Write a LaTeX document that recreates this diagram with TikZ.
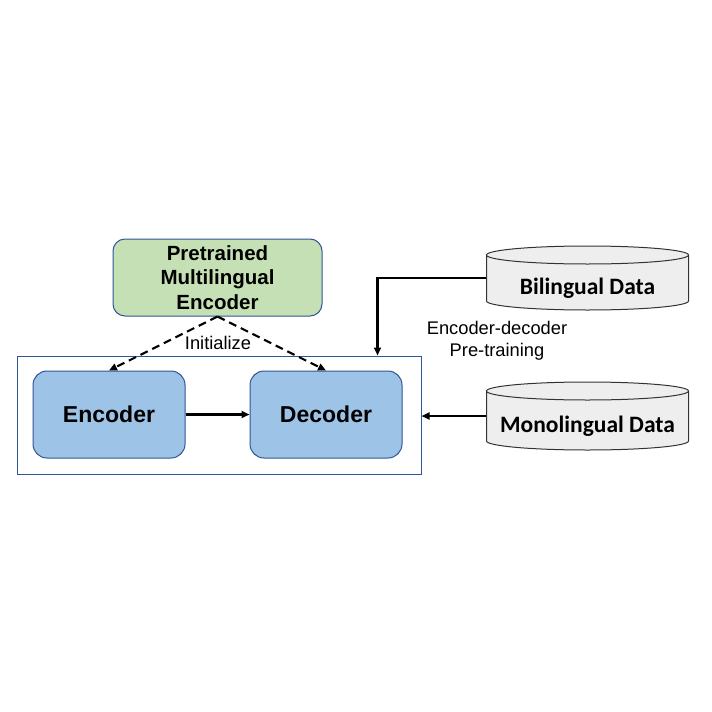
\documentclass[tikz,border=0pt]{standalone}
\usepackage{fontspec}
\setmainfont{Liberation Sans}
\newfontfamily\calibri{Carlito}
\usetikzlibrary{arrows.meta}
\definecolor{pregreen}{HTML}{C5E0B4}
\definecolor{boxblue}{HTML}{9DC3E6}
\definecolor{edgeblue}{HTML}{2F5597}
\definecolor{datagray}{HTML}{EEEEEE}
\begin{document}
\begin{tikzpicture}[x=1pt,y=-1pt,
  arr/.style = {line width=2.1pt, -{Triangle[length=8pt,width=7pt]}},
  model/.style = {draw=edgeblue, line width=1pt, fill=boxblue, rounded corners=14pt,
    minimum width=152pt, minimum height=87pt, font=\fontsize{23}{26}\selectfont\bfseries},
  data/.style = {minimum width=202pt, text height=38pt, text depth=5pt,
    font=\calibri\fontsize{23.5}{26}\selectfont\bfseries},
  can/.style = {draw=black!80, line width=1pt, fill=datagray}]
  \useasboundingbox (0,0) rectangle (712,712);
  \node[draw=edgeblue, line width=1pt, minimum width=404pt, minimum height=118pt]
    (frame) at (219,415) {};
  \node[draw=edgeblue, line width=1pt, fill=pregreen, rounded corners=12pt,
    minimum width=209pt, minimum height=77pt, align=center,
    font=\fontsize{20.5}{24.5}\selectfont\bfseries] (pre) at (217.5,277.5)
    {Pretrained\\Multilingual\\Encoder};
  \node[model] (enc) at (109,414.5) {Encoder};
  \node[model] (dec) at (326,414.5) {Decoder};
  \foreach \n/\y/\h in {bil/278/64, mono/416/68}
    \path[can] (587.5,\y) coordinate (\n c) ++(-101,-\h/2+9)
      -- ++(0,\h-18) arc(180:0:101 and 9) -- ++(0,-\h+18) arc(0:-180:101 and 9) -- cycle
      ++(0,0) arc(180:0:101 and 9);
  \node[data, minimum height=64pt] (bil) at (bilc) {Bilingual Data};
  \node[data, minimum height=68pt] (mono) at (monoc) {Monolingual Data};
  \node[font=\fontsize{18.3}{22.5}\selectfont] (init) at (218,343) {Initialize};
  \node[align=center, font=\fontsize{18.3}{22.5}\selectfont] (pt) at (497,341)
    {Encoder-decoder\\Pre-training};
  \draw[arr, dashed, dash pattern=on 8pt off 5pt] (pre.south) -- (enc.north);
  \draw[arr, dashed, dash pattern=on 8pt off 5pt] (pre.south) -- (dec.north);
  \draw[arr] (enc) -- (dec);
  \draw[arr] (bil.west) -| ([xshift=-44pt]frame.north east);
  \draw[arr] (mono.west) -- (mono.west -| frame.east);
\end{tikzpicture}
\end{document}
